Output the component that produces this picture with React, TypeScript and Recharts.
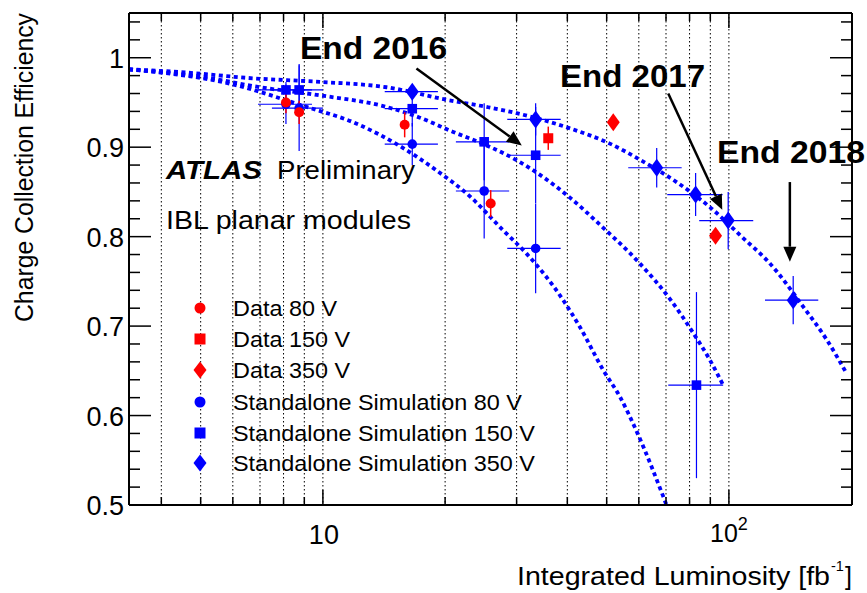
import React from "react"
import { ComposedChart, Line, Scatter, XAxis, YAxis, CartesianGrid, ErrorBar, ReferenceLine, Legend } from "recharts"

const FONT = '"Liberation Sans", Arial, Helvetica, sans-serif'
const BLUE = "#0000ff"
const RED = "#ff0000"

// plot frame in page pixels
const LEFT = 129
const RIGHT = 852
const TOP = 13
const BOTTOM = 505

const xTicks = [4, 5, 6, 7, 8, 9, 10, 20, 30, 40, 50, 60, 70, 80, 90, 100]
const yTicks = [
  0.5, 0.52, 0.54, 0.56, 0.58, 0.6, 0.62, 0.64, 0.66, 0.68, 0.7, 0.72, 0.74, 0.76,
  0.78, 0.8, 0.82, 0.84, 0.86, 0.88, 0.9, 0.92, 0.94, 0.96, 0.98, 1.0, 1.02, 1.04,
]

// dotted simulation curves
const curve350X = [3.33, 4.44, 6.72, 9.83, 14.35, 20.17, 25.3, 30.0, 40.6, 50.9, 60.4, 74.3, 89.8, 107.5, 126.2, 152.2, 174, 195]
const curve350Y = [0.987, 0.984, 0.977, 0.973, 0.967, 0.953, 0.945, 0.938, 0.921, 0.904, 0.886, 0.861, 0.833, 0.8, 0.77, 0.722, 0.685, 0.647]
const curve150X = [3.33, 4.98, 7.0, 9.83, 14.35, 17.33, 20.94, 25.3, 30.0, 34.9, 40.6, 48.1, 60.4, 71.6, 81.7, 89.8, 96.8]
const curve150Y = [0.987, 0.979, 0.967, 0.958, 0.945, 0.933, 0.917, 0.902, 0.8855, 0.8665, 0.8436, 0.8134, 0.7698, 0.7302, 0.6922, 0.662, 0.634]
const curve80X = [3.33, 5.9, 9.12, 11.86, 15.77, 19.05, 23.02, 27.8, 31.74, 39.07, 42.95, 49.0, 53.9, 59.3, 70.2]
const curve80Y = [0.987, 0.971, 0.945, 0.928, 0.899, 0.874, 0.845, 0.807, 0.781, 0.729, 0.699, 0.651, 0.621, 0.582, 0.5]

// standalone simulation points
const sim80X = [8.11, 8.74, 16.6, 24.96, 33.42]
const sim80Y = [0.948, 0.9436, 0.9034, 0.851, 0.7868]
const sim80Xlo = [1.19, 1.25, 2.4, 3.7, 4.97]
const sim80Xhi = [1.29, 1.26, 2.6, 3.8, 5.1]
const sim80Yerr = [0.022, 0.048, 0.0235, 0.053, 0.05]

const sim150X = [8.11, 8.74, 16.6, 24.96, 33.42, 83.2]
const sim150Y = [0.964, 0.964, 0.943, 0.906, 0.891, 0.634]
const sim150Xlo = [1.19, 1.25, 2.4, 3.7, 4.97, 12.3]
const sim150Xhi = [1.29, 1.26, 2.6, 3.8, 5.1, 13.6]
const sim150Yerr = [0.009, 0.029, 0.02, 0.043, 0.054, 0.104]

const sim350X = [16.6, 33.42, 66.4, 82.8, 99.6, 144]
const sim350Y = [0.962, 0.931, 0.877, 0.847, 0.818, 0.729]
const sim350Xlo = [2.4, 4.97, 9.9, 12.3, 15.1, 21.3]
const sim350Xhi = [2.6, 5.1, 10.1, 13.7, 15.2, 22]
const sim350Yerr = [0.006, 0.018, 0.022, 0.024, 0.032, 0.027]

// measured data
const data80X = [8.11, 8.74, 15.9, 25.9]
const data80Y = [0.95, 0.939, 0.925, 0.837]
const data80Yerr = [0.012, 0.013, 0.014, 0.015]
const data150X = [35.9]
const data150Y = [0.91]
const data150Yerr = [0.013]
const data350X = [51.9, 92.7]
const data350Y = [0.928, 0.801]

// annotation arrows, data coordinates
const arrows = [
  [{ x: 17.0, y: 0.988 }, { x: 30.9, y: 0.902 }],
  [{ x: 70.9, y: 0.96 }, { x: 96.3, y: 0.83 }],
  [{ x: 141.3, y: 0.861 }, { x: 141.3, y: 0.772 }],
]

const curve = (xs: number[], ys: number[]) => xs.map((x, i) => ({ x, y: ys[i] }))
const points = (xs: number[], ys: number[], xlo?: number[], xhi?: number[], yerr?: number[]) =>
  xs.map((x, i) => ({
    x,
    y: ys[i],
    ex: xlo && xhi ? [xlo[i], xhi[i]] : 0,
    ey: yerr ? yerr[i] : 0,
  }))

const circle = (color: string, r: number) => (p: any) => <circle cx={p.cx} cy={p.cy} r={r} fill={color} />
const square = (color: string, h: number) => (p: any) => (
  <rect x={p.cx - h} y={p.cy - h} width={2 * h} height={2 * h} fill={color} />
)
const diamond = (color: string, w: number, h: number) => (p: any) => (
  <polygon
    points={`${p.cx},${p.cy - h} ${p.cx + w},${p.cy} ${p.cx},${p.cy + h} ${p.cx - w},${p.cy}`}
    fill={color}
  />
)

const arrowShape = (p: any) => {
  const { x1, y1, x2, y2 } = p
  const a = Math.atan2(y2 - y1, x2 - x1)
  const L = 15
  const W = 6.5
  const bx = x2 - L * Math.cos(a)
  const by = y2 - L * Math.sin(a)
  return (
    <g>
      <line x1={x1} y1={y1} x2={bx} y2={by} stroke="#000" strokeWidth={2.5} />
      <polygon
        points={`${x2},${y2} ${bx - W * Math.sin(a)},${by + W * Math.cos(a)} ${bx + W * Math.sin(a)},${by - W * Math.cos(a)}`}
        fill="#000"
      />
    </g>
  )
}

const isMajorY = (v: number) => Math.abs(v * 10 - Math.round(v * 10)) < 1e-6

const LeftTick = (p: any) => {
  const v = p.payload.value
  const y = p.payload.coordinate ?? p.y
  const major = isMajorY(v)
  return (
    <g>
      <line x1={LEFT} x2={LEFT + (major ? 22 : 11)} y1={y} y2={y} stroke="#000" strokeWidth={1.5} />
      {major && (
        <text x={124} y={y + 10} textAnchor="end" fontSize={27} fontFamily={FONT} fill="#000">
          {String(Math.round(v * 10) / 10)}
        </text>
      )}
    </g>
  )
}

const RightTick = (p: any) => {
  const v = p.payload.value
  const y = p.payload.coordinate ?? p.y
  const major = isMajorY(v)
  return <line x1={RIGHT} x2={RIGHT - (major ? 22 : 11)} y1={y} y2={y} stroke="#000" strokeWidth={1.5} />
}

const BottomTick = (p: any) => {
  const v = p.payload.value
  const x = p.payload.coordinate ?? p.x
  const major = v === 10 || v === 100
  return (
    <g>
      <line x1={x} x2={x} y1={BOTTOM} y2={BOTTOM - (major ? 15 : 8)} stroke="#000" strokeWidth={1.5} />
      {v === 10 && (
        <text x={x + 1} y={544} textAnchor="middle" fontSize={27} fontFamily={FONT} fill="#000">
          10
        </text>
      )}
      {v === 100 && (
        <text x={x} y={542} textAnchor="middle" fontSize={25} fontFamily={FONT} fill="#000">
          10
          <tspan dy={-12} fontSize={18}>2</tspan>
        </text>
      )}
    </g>
  )
}

const TopTick = (p: any) => {
  const v = p.payload.value
  const x = p.payload.coordinate ?? p.x
  const major = v === 10 || v === 100
  return <line x1={x} x2={x} y1={TOP} y2={TOP + (major ? 15 : 8)} stroke="#000" strokeWidth={1.5} />
}

const legendRows = [
  { label: "Data 80 V", width: 104, mark: circle(RED, 5.5) },
  { label: "Data 150 V", width: 117, mark: square(RED, 5.5) },
  { label: "Data 350 V", width: 117, mark: diamond(RED, 6.5, 8.5) },
  { label: "Standalone Simulation 80 V", width: 289, mark: circle(BLUE, 5.5) },
  { label: "Standalone Simulation 150 V", width: 302, mark: square(BLUE, 5.5) },
  { label: "Standalone Simulation 350 V", width: 302, mark: diamond(BLUE, 6.5, 8.5) },
]
const legendRowY = [18, 49, 80, 112, 143, 173]

const LegendBox = () => (
  <svg width={380} height={192} fontFamily={FONT}>
    {legendRows.map((r, i) => (
      <g key={r.label}>
        {r.mark({ cx: 15, cy: legendRowY[i] })}
        <text
          x={48}
          y={legendRowY[i] + 8}
          fontSize={22.5}
          fill="#000"
          textLength={r.width}
          lengthAdjust="spacingAndGlyphs"
        >
          {r.label}
        </text>
      </g>
    ))}
  </svg>
)

export default function App() {
  const errX = { direction: "x" as const, dataKey: "ex", width: 0, stroke: BLUE, strokeWidth: 1.2 }
  const errYBlue = { direction: "y" as const, dataKey: "ey", width: 0, stroke: BLUE, strokeWidth: 1.2 }
  const errYRed = { direction: "y" as const, dataKey: "ey", width: 0, stroke: RED, strokeWidth: 1.5 }
  const lineStyle = {
    type: "monotone" as const,
    dataKey: "y",
    stroke: BLUE,
    strokeWidth: 3.8,
    strokeDasharray: "4 3.5",
    dot: false,
    activeDot: false,
    isAnimationActive: false,
  }

  return (
    <div style={{ position: "absolute", left: 0, top: 0, width: 867, height: 593, background: "#fff" }}>
      <ComposedChart width={867} height={593} margin={{ top: 0, right: 0, bottom: 0, left: 0 }}>
        <CartesianGrid horizontal={false} vertical strokeDasharray="1.5 2.5" stroke="#000" strokeWidth={1} />
        <XAxis
          dataKey="x"
          type="number"
          scale="log"
          domain={[3.33, 201]}
          allowDataOverflow
          ticks={xTicks}
          interval={0}
          tick={BottomTick}
          tickLine={false}
          tickSize={0}
          tickMargin={0}
          height={88}
          axisLine={{ stroke: "#000", strokeWidth: 2 }}
        />
        <XAxis
          xAxisId="top"
          orientation="top"
          dataKey="x"
          type="number"
          scale="log"
          domain={[3.33, 201]}
          allowDataOverflow
          ticks={xTicks}
          interval={0}
          tick={TopTick}
          tickLine={false}
          tickSize={0}
          tickMargin={0}
          height={13}
          axisLine={{ stroke: "#000", strokeWidth: 2 }}
        />
        <YAxis
          dataKey="y"
          type="number"
          domain={[0.5, 1.05]}
          allowDataOverflow
          ticks={yTicks}
          interval={0}
          tick={LeftTick}
          tickLine={false}
          tickSize={0}
          tickMargin={0}
          width={129}
          axisLine={{ stroke: "#000", strokeWidth: 2 }}
        />
        <YAxis
          yAxisId="right"
          orientation="right"
          dataKey="y"
          type="number"
          domain={[0.5, 1.05]}
          allowDataOverflow
          ticks={yTicks}
          interval={0}
          tick={RightTick}
          tickLine={false}
          tickSize={0}
          tickMargin={0}
          width={15}
          axisLine={{ stroke: "#000", strokeWidth: 2 }}
        />

        <Line data={curve(curve350X, curve350Y)} {...lineStyle} />
        <Line data={curve(curve150X, curve150Y)} {...lineStyle} />
        <Line data={curve(curve80X, curve80Y)} {...lineStyle} />

        <Scatter data={points(sim80X, sim80Y, sim80Xlo, sim80Xhi, sim80Yerr)} shape={circle(BLUE, 4.8)} isAnimationActive={false}>
          <ErrorBar {...errX} />
          <ErrorBar {...errYBlue} />
        </Scatter>
        <Scatter data={points(sim150X, sim150Y, sim150Xlo, sim150Xhi, sim150Yerr)} shape={square(BLUE, 4.8)} isAnimationActive={false}>
          <ErrorBar {...errX} />
          <ErrorBar {...errYBlue} />
        </Scatter>
        <Scatter data={points(sim350X, sim350Y, sim350Xlo, sim350Xhi, sim350Yerr)} shape={diamond(BLUE, 6.5, 9)} isAnimationActive={false}>
          <ErrorBar {...errX} />
          <ErrorBar {...errYBlue} />
        </Scatter>
        <Scatter data={points(data80X, data80Y, undefined, undefined, data80Yerr)} shape={circle(RED, 5)} isAnimationActive={false}>
          <ErrorBar {...errYRed} />
        </Scatter>
        <Scatter data={points(data150X, data150Y, undefined, undefined, data150Yerr)} shape={square(RED, 5)} isAnimationActive={false}>
          <ErrorBar {...errYRed} />
        </Scatter>
        <Scatter data={points(data350X, data350Y)} shape={diamond(RED, 6.5, 9)} isAnimationActive={false} />

        {arrows.map((seg, i) => (
          <ReferenceLine key={i} segment={seg} shape={arrowShape} ifOverflow="visible" />
        ))}

        <Legend
          layout="vertical"
          align="center"
          verticalAlign="middle"
          wrapperStyle={{ position: "absolute", left: 185, top: 290, width: 380, height: 192 }}
          content={() => <LegendBox />}
        />
      </ComposedChart>

      <svg
        width={867}
        height={593}
        fontFamily={FONT}
        style={{ position: "absolute", left: 0, top: 0, pointerEvents: "none" }}
      >
        <text x={300} y={59} fontSize={32} fontWeight="bold" textLength={147} lengthAdjust="spacingAndGlyphs">
          End 2016
        </text>
        <text x={560} y={87} fontSize={32} fontWeight="bold" textLength={145} lengthAdjust="spacingAndGlyphs">
          End 2017
        </text>
        <text x={717} y={163} fontSize={32} fontWeight="bold" textLength={148} lengthAdjust="spacingAndGlyphs">
          End 2018
        </text>
        <text x={166} y={179} fontSize={25} fontWeight="bold" fontStyle="italic" textLength={96} lengthAdjust="spacingAndGlyphs">
          ATLAS
        </text>
        <text x={277} y={179} fontSize={25} textLength={138} lengthAdjust="spacingAndGlyphs">
          Preliminary
        </text>
        <text x={166} y={229} fontSize={25} textLength={245} lengthAdjust="spacingAndGlyphs">
          IBL planar modules
        </text>
        <text x={517} y={585} fontSize={25} textLength={313} lengthAdjust="spacingAndGlyphs">
          Integrated Luminosity [fb
        </text>
        <text x={831} y={571} fontSize={14.5}>
          -1
        </text>
        <text x={845} y={585} fontSize={25}>
          ]
        </text>
        <text
          transform="translate(33,167.5) rotate(-90)"
          textAnchor="middle"
          fontSize={25}
          textLength={309}
          lengthAdjust="spacingAndGlyphs"
        >
          Charge Collection Efficiency
        </text>
      </svg>
    </div>
  )
}
